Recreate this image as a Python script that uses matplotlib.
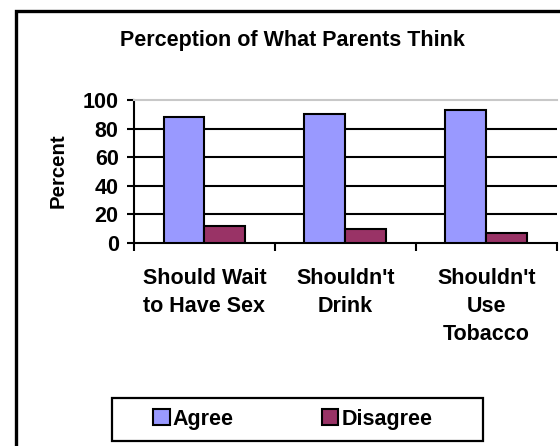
"""Recreate the 'Perception of What Parents Think' grouped bar chart."""
import matplotlib

matplotlib.use("Agg")
import matplotlib.pyplot as plt
from matplotlib.patches import Patch, Rectangle

categories = ["Should Wait\nto Have Sex", "Shouldn't\nDrink", "Shouldn't\nUse\nTobacco"]
agree = [88, 90, 93]
disagree = [12, 10, 7]
series_names = ["Agree", "Disagree"]
y_ticks = [0, 20, 40, 60, 80, 100]

AGREE_COLOR = "#9999FF"
DISAGREE_COLOR = "#993366"
FS = 15.5

plt.rcParams["font.family"] = ["Liberation Sans", "DejaVu Sans"]
plt.rcParams["font.weight"] = "bold"

W, H = 560, 446
fig = plt.figure(figsize=(W / 100, H / 100), dpi=100)
fig.patch.set_facecolor("white")

# outer chart frame (clipped on right/bottom like the original)
fig.patches.append(
    Rectangle((15.5 / W, -0.2), 1.2, 1.2 - 10.5 / H,
              transform=fig.transFigure, fill=False, edgecolor="black",
              linewidth=2.4, zorder=0)
)

ax = fig.add_axes([134 / W, 1 - 243 / H, (556.7 - 134) / W, (243 - 100) / H])

x = list(range(len(categories)))
width = 0.29
ax.bar([i - width / 2 for i in x], agree, width, color=AGREE_COLOR,
       edgecolor="black", linewidth=1.5, zorder=3, label=series_names[0])
ax.bar([i + width / 2 for i in x], disagree, width, color=DISAGREE_COLOR,
       edgecolor="black", linewidth=1.5, zorder=3, label=series_names[1])

ax.set_xlim(-0.5, len(categories) - 0.5)
ax.set_ylim(0, 100)
ax.set_yticks(y_ticks)
ax.set_yticklabels([str(v) for v in y_ticks], fontsize=FS, fontweight="bold")
for v in y_ticks[1:-1]:
    ax.axhline(v, color="black", linewidth=1.5, zorder=1)

ax.set_xticks(x)
ax.set_xticklabels(categories, fontsize=FS, fontweight="bold", linespacing=1.45)
ax.set_xticks([i - 0.5 for i in range(len(categories) + 1)], minor=True)
ax.tick_params(axis="x", which="major", length=0, pad=18)
ax.tick_params(axis="x", which="minor", length=5.5, width=1.5, direction="out")
ax.tick_params(axis="y", length=5, width=1.5, pad=6)

ax.spines["right"].set_visible(False)
ax.spines["top"].set_color("#c8c8c8")
ax.spines["top"].set_linewidth(1.5)
ax.spines["left"].set_linewidth(1.5)
ax.spines["bottom"].set_linewidth(1.5)

fig.text(292 / W, 1 - 46 / H, "Perception of What Parents Think",
         ha="center", va="baseline", fontsize=FS, fontweight="bold")
fig.text(58 / W, 1 - 171 / H, "Percent", rotation=90, ha="center",
         va="center", fontsize=FS - 0.8, fontweight="bold")

# legend box
fig.patches.append(
    Rectangle((112 / W, 1 - 440.5 / H), (483 - 112) / W, (440.5 - 398) / H,
              transform=fig.transFigure, fill=False, edgecolor="black",
              linewidth=1.6, zorder=2)
)
handles = [Patch(facecolor=AGREE_COLOR, edgecolor="black", linewidth=1.5),
           Patch(facecolor=DISAGREE_COLOR, edgecolor="black", linewidth=1.5)]
fig.legend(handles, series_names, loc="center", ncol=2,
           bbox_to_anchor=(293 / W, 1 - 419 / H), frameon=False,
           prop={"size": FS, "weight": "bold"}, handlelength=0.75,
           handleheight=0.75, handletextpad=0.15, columnspacing=4.1,
           borderpad=0.2)

fig.savefig("out.png", dpi=100)
